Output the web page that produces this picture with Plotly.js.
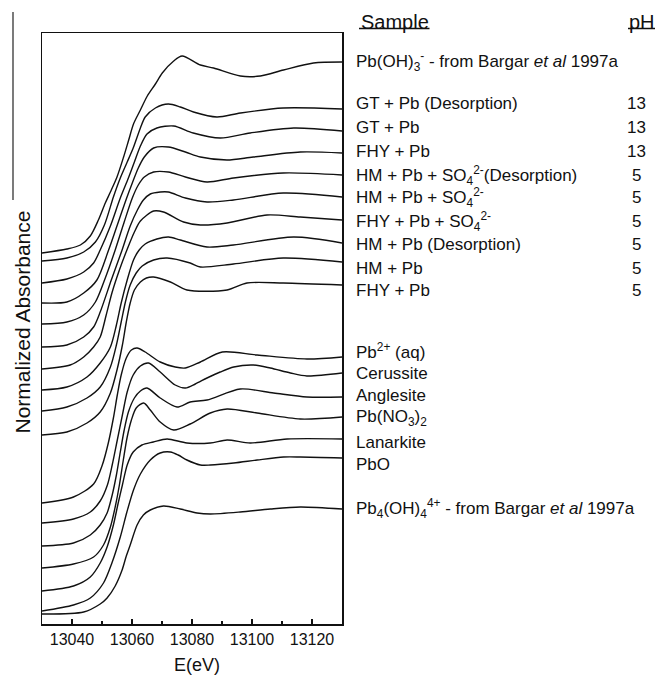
<!DOCTYPE html>
<html>
<head>
<meta charset="utf-8">
<script src="https://cdn.plot.ly/plotly-3.0.1.min.js"></script>
<style>html,body{margin:0;padding:0;background:#fff;}#chart{width:657px;height:675px;}</style>
</head>
<body>
<div id="chart"></div>
<script>
// ---------- data (energy in eV, normalized absorbance with vertical offsets, arbitrary units) ----------
const E_PbOH3 = [13030,13038.3,13042.8,13046.1,13048.8,13051.1,13052.8,13055.0,13057.2,13058.9,13060.5,13062.8,13065.1,13067.8,13070.1,13073.9,13076.7,13082.8,13087.2,13096.1,13102.8,13110.5,13120.5,13130];
const A_PbOH3 = [3.71,3.75,3.79,3.88,4.04,4.21,4.32,4.47,4.67,4.84,5.00,5.14,5.28,5.40,5.51,5.63,5.68,5.59,5.56,5.48,5.48,5.54,5.61,5.62];

const E_GT_des = [13030,13038.3,13043.9,13047.8,13050.8,13053.8,13056.1,13058.4,13060.4,13062.8,13064.4,13067.8,13072.1,13076.1,13080.5,13088.3,13096.1,13110.4,13130];
const A_GT_des = [3.63,3.66,3.72,3.82,3.99,4.27,4.46,4.62,4.76,4.96,5.07,5.16,5.20,5.17,5.12,5.07,5.11,5.16,5.15];

const E_GT = [13030,13038.3,13043.9,13047.2,13049.4,13052.8,13056.1,13058.8,13060.8,13062.8,13065.0,13068.3,13073.9,13080.4,13089.4,13099.4,13113.9,13130];
const A_GT = [3.41,3.45,3.52,3.61,3.74,3.98,4.26,4.46,4.62,4.78,4.90,4.96,4.98,4.91,4.86,4.91,4.96,4.93];

const E_FHY13 = [13030,13038.3,13043.9,13048.3,13052.2,13055.1,13058.1,13060.1,13062.1,13064.1,13067.2,13072.1,13077.8,13082.8,13091.7,13100.4,13116.1,13130];
const A_FHY13 = [3.21,3.22,3.31,3.44,3.74,3.99,4.25,4.41,4.56,4.67,4.76,4.77,4.72,4.67,4.64,4.67,4.72,4.71];

const E_HM_SO4_des = [13030,13038.3,13043.9,13047.8,13051.1,13054.4,13057.4,13060.1,13062.1,13064.1,13067.2,13072.1,13077.8,13085.0,13093.8,13110.4,13130];
const A_HM_SO4_des = [3.00,3.02,3.09,3.22,3.46,3.74,4.02,4.26,4.39,4.47,4.52,4.52,4.47,4.42,4.46,4.51,4.49];

const E_HM_SO4 = [13030,13038.3,13043.9,13047.2,13049.4,13053.1,13056.7,13059.4,13061.8,13063.8,13066.1,13069.4,13072.1,13077.8,13085.0,13093.8,13110.4,13130];
const A_HM_SO4 = [2.77,2.79,2.87,2.97,3.12,3.44,3.74,3.98,4.14,4.24,4.30,4.32,4.32,4.26,4.22,4.24,4.31,4.27];

const E_FHY_SO4 = [13030,13039.4,13043.9,13047.2,13049.4,13051.4,13053.4,13055.8,13058.3,13060.8,13062.8,13067.2,13070.5,13077.2,13082.8,13091.7,13105.0,13116.1,13130];
const A_FHY_SO4 = [2.55,2.59,2.67,2.77,2.87,3.09,3.32,3.54,3.74,3.92,4.03,4.13,4.12,4.02,3.99,4.01,4.09,4.07,4.04];

const E_HM_des = [13030,13038.3,13045.0,13049.4,13052.8,13054.8,13056.4,13058.4,13060.5,13062.4,13064.4,13068.3,13072.2,13076.1,13085.0,13093.8,13113.9,13130];
const A_HM_des = [2.34,2.37,2.47,2.61,2.77,2.99,3.21,3.44,3.64,3.74,3.80,3.85,3.87,3.84,3.77,3.79,3.87,3.81];

const E_HM = [13030,13038.3,13045.0,13049.4,13052.8,13054.8,13056.4,13057.8,13059.4,13061.4,13063.4,13067.2,13071.7,13079.4,13082.8,13093.8,13110.4,13130];
const A_HM = [2.13,2.17,2.26,2.37,2.57,2.79,3.02,3.22,3.39,3.51,3.58,3.64,3.66,3.61,3.57,3.60,3.66,3.62];

const E_FHY5 = [13030,13038.3,13045.0,13049.4,13052.8,13055.0,13056.8,13058.1,13059.4,13060.8,13062.8,13064.8,13067.2,13072.8,13078.3,13091.7,13098.3,13110.4,13130];
const A_FHY5 = [1.89,1.92,2.01,2.12,2.31,2.54,2.79,3.02,3.21,3.34,3.42,3.46,3.47,3.42,3.34,3.34,3.41,3.41,3.39];

const E_Pbaq = [13030,13040.5,13047.2,13050.1,13052.1,13053.8,13055.1,13056.4,13058.1,13059.8,13061.7,13064.4,13069.4,13074.4,13077.8,13082.8,13090.1,13101.7,13118.3,13130];
const A_Pbaq = [1.21,1.27,1.40,1.59,1.81,2.06,2.29,2.49,2.66,2.74,2.76,2.72,2.62,2.57,2.56,2.62,2.72,2.69,2.65,2.67];

const E_Cerussite = [13030,13040.5,13046.1,13049.4,13051.8,13053.4,13055.1,13056.8,13058.4,13060.4,13062.8,13065.5,13069.4,13074.4,13077.8,13081.1,13085.0,13089.4,13093.9,13100.5,13106.1,13112.8,13118.3,13130];
const A_Cerussite = [1.01,1.05,1.12,1.23,1.39,1.59,1.84,2.09,2.32,2.49,2.58,2.61,2.52,2.39,2.36,2.40,2.46,2.52,2.57,2.59,2.56,2.51,2.48,2.51];

const E_Anglesite = [13030,13040.5,13046.1,13049.4,13051.7,13053.4,13054.8,13056.1,13057.4,13058.8,13060.8,13062.8,13065.0,13069.4,13075.0,13079.4,13085.0,13096.1,13107.2,13118.3,13130];
const A_Anglesite = [0.78,0.81,0.89,0.99,1.11,1.29,1.49,1.72,1.94,2.12,2.26,2.33,2.36,2.26,2.17,2.22,2.24,2.35,2.31,2.27,2.27];

const E_PbNO3 = [13030,13040.5,13047.2,13050.5,13052.8,13054.4,13055.8,13057.1,13058.4,13059.8,13061.4,13063.9,13066.1,13069.4,13073.9,13079.4,13086.1,13091.7,13101.7,13116.1,13130];
const A_PbNO3 = [0.56,0.60,0.67,0.79,0.97,1.17,1.39,1.64,1.87,2.04,2.16,2.21,2.14,2.02,1.94,2.00,2.11,2.15,2.11,2.05,2.07];

const E_Lanarkite = [13030,13040.5,13046.1,13049.4,13051.7,13053.8,13055.4,13056.8,13058.4,13060.4,13063.3,13067.1,13071.7,13078.3,13086.1,13091.7,13099.4,13111.7,13130];
const A_Lanarkite = [0.33,0.38,0.47,0.61,0.77,0.99,1.21,1.39,1.59,1.72,1.79,1.82,1.85,1.81,1.81,1.84,1.81,1.85,1.85];

const E_PbO = [13030,13040.5,13046.1,13050.5,13053.3,13056.1,13058.3,13060.5,13062.8,13066.1,13069.4,13072.8,13075.4,13078.3,13082.8,13086.1,13093.9,13101.7,13110.5,13116.1,13130];
const A_PbO = [0.13,0.19,0.26,0.41,0.61,0.87,1.12,1.34,1.50,1.64,1.71,1.72,1.69,1.64,1.59,1.59,1.61,1.64,1.67,1.67,1.66];

const E_Pb4OH4 = [13030,13043.9,13049.4,13051.7,13054.4,13056.7,13058.1,13059.4,13061.7,13063.8,13066.1,13070.5,13076.1,13081.7,13086.1,13096.1,13106.1,13116.1,13130];
const A_Pb4OH4 = [0.10,0.12,0.20,0.26,0.38,0.54,0.68,0.79,0.99,1.09,1.14,1.18,1.15,1.11,1.10,1.12,1.15,1.17,1.15];

// ---------- text ----------
const sampleLabels = ["GT + Pb (Desorption)","GT + Pb","FHY + Pb",
  "HM + Pb + SO<sub>4</sub><sup>2-</sup>(Desorption)","HM + Pb + SO<sub>4</sub><sup>2-</sup>",
  "FHY + Pb + SO<sub>4</sub><sup>2-</sup>","HM + Pb (Desorption)","HM + Pb","FHY + Pb"];
const samplePH = ["13","13","13","5","5","5","5","5","5"];
const referenceLabels = ["Pb<sup>2+</sup> (aq)","Cerussite","Anglesite","Pb(NO<sub>3</sub>)<sub>2</sub>","Lanarkite","PbO"];
const bargarLabels = ["Pb(OH)<sub>3</sub><sup>-</sup> - from Bargar <i>et al</i> 1997a",
  "Pb<sub>4</sub>(OH)<sub>4</sub><sup>4+</sup> - from Bargar <i>et al</i> 1997a"];
const xTickVals = [13040,13060,13080,13100,13120];
const xTickText = ["13040","13060","13080","13100","13120"];

// ---------- layout helpers (pixel -> paper) ----------
const W = 657, H = 675, ML = 42, MR = 315, MT = 33, MB = 51;
const PW = W - ML - MR, PH = H - MT - MB;
const px = x => (x - ML) / PW;
const py = y => (H - MB - y) / PH;

const series = [
  [E_PbOH3, A_PbOH3],[E_GT_des, A_GT_des],[E_GT, A_GT],[E_FHY13, A_FHY13],
  [E_HM_SO4_des, A_HM_SO4_des],[E_HM_SO4, A_HM_SO4],[E_FHY_SO4, A_FHY_SO4],
  [E_HM_des, A_HM_des],[E_HM, A_HM],[E_FHY5, A_FHY5],
  [E_Pbaq, A_Pbaq],[E_Cerussite, A_Cerussite],[E_Anglesite, A_Anglesite],
  [E_PbNO3, A_PbNO3],[E_Lanarkite, A_Lanarkite],[E_PbO, A_PbO],[E_Pb4OH4, A_Pb4OH4]
];
const traces = series.map(s => ({
  x: s[0], y: s[1], type: 'scatter', mode: 'lines',
  line: {color: '#111', width: 1.4, shape: 'spline', smoothing: 0.8},
  hoverinfo: 'skip', showlegend: false
}));

const FONT = 'Liberation Sans, Arial, sans-serif';
const ann = [];
const lblX = px(354);
const sampleY = [104,127,151,175,198,221,244,268,290];
const refY = [351,373,395,418,442,464];
const lab = (x, y, t, size, anchor) => ({xref:'paper',yref:'paper',x:x,y:y,xanchor:anchor||'left',yanchor:'middle',text:t,showarrow:false,font:{family:FONT,size:size,color:'#111'}});
ann.push(lab(lblX, py(61.7), bargarLabels[0], 17));
sampleLabels.forEach((t,i)=>{
  ann.push(lab(lblX, py(sampleY[i]), t, 17));
  ann.push(lab(px(636), py(sampleY[i]), samplePH[i], 17, 'center'));
});
referenceLabels.forEach((t,i)=>{ ann.push(lab(lblX, py(refY[i]), t, 17)); });
ann.push(lab(lblX, py(508), bargarLabels[1], 17));
// headers
ann.push(lab(px(359), py(21.7), 'Sample', 20));
ann.push(lab(px(641.5), py(21.7), 'pH', 20, 'center'));
// axis titles
ann.push(lab(px(197), py(665), 'E(eV)', 18, 'center'));
const yt = lab(px(21.5), py(322), 'Normalized Absorbance', 21, 'center');
yt.textangle = -90;
ann.push(yt);

const shapes = [
  {type:'line',xref:'paper',yref:'paper',x0:px(359),x1:px(429.5),y0:py(28.5),y1:py(28.5),line:{color:'#111',width:1.5}},
  {type:'line',xref:'paper',yref:'paper',x0:px(628),x1:px(655),y0:py(28.5),y1:py(28.5),line:{color:'#111',width:1.5}},
  {type:'line',xref:'paper',yref:'paper',x0:px(13),x1:px(13),y0:py(12),y1:py(200),line:{color:'#222',width:1.2}}
];

const layout = {
  width: W, height: H,
  margin: {l: ML, r: MR, t: MT, b: MB, pad: 0},
  paper_bgcolor: '#fff', plot_bgcolor: '#fff',
  showlegend: false,
  font: {family: FONT, color: '#111'},
  xaxis: {
    range: [13030, 13130], tickmode: 'array', tickvals: xTickVals, ticktext: xTickText,
    ticks: 'inside', ticklen: 5, tickwidth: 1.3, tickcolor: '#111',
    minor: {dtick: 10, tick0: 13030, ticks: 'inside', ticklen: 3, tickwidth: 1.1, tickcolor: '#111'},
    showline: true, mirror: true, linecolor: '#111', linewidth: 1.5,
    showgrid: false, zeroline: false,
    tickfont: {family: FONT, size: 16, color: '#111'}
  },
  yaxis: {
    range: [0, PH / 100], showticklabels: false, ticks: '',
    showline: true, mirror: true, linecolor: '#111', linewidth: 1.5,
    showgrid: false, zeroline: false
  },
  annotations: ann,
  shapes: shapes
};

Plotly.newPlot('chart', traces, layout, {displayModeBar: false, staticPlot: true});
</script>
</body>
</html>
